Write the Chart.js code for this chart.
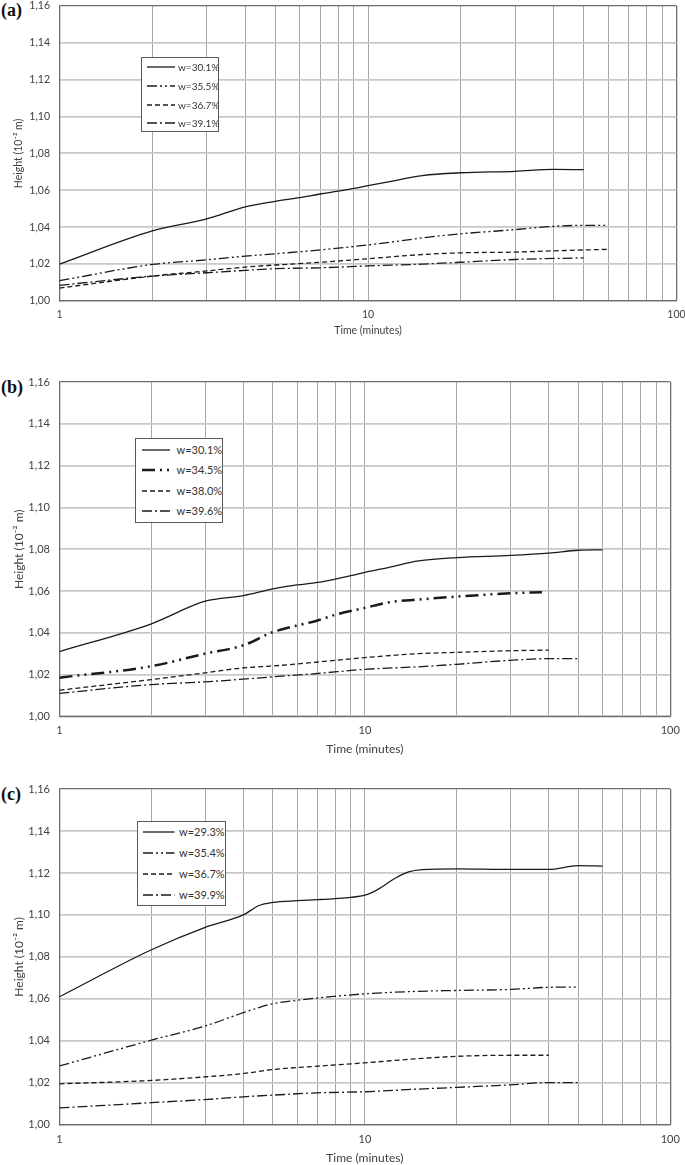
<!DOCTYPE html>
<html><head><meta charset="utf-8">
<script src="https://cdn.jsdelivr.net/npm/chart.js@4/dist/chart.umd.min.js"></script>
<style>
html,body{margin:0;padding:0;background:#fff;}
body{width:685px;height:1165px;overflow:hidden;position:relative;}
canvas{position:absolute;left:0;}
.plabel{position:absolute;left:1px;font-family:"Liberation Serif","DejaVu Serif",serif;font-weight:bold;font-size:18px;line-height:18px;color:#111;}
.legend{position:absolute;border:1px solid #5a5a5a;background:#fff;box-sizing:border-box;font-family:Lato,"Open Sans",sans-serif;color:#333;}
.legend .row{position:absolute;left:0;width:100%;height:14px;}
.legend svg{position:absolute;top:4px;}
.legend span{position:absolute;top:0;line-height:14px;white-space:nowrap;}
</style></head><body>
<div class="plabel" style="top:1px">(a)</div>
<div class="plabel" style="top:378px">(b)</div>
<div class="plabel" style="top:785px">(c)</div>
<script>
// ---------- axis data ----------
const xTickValues = [1,2,3,4,5,6,7,8,9,10,20,30,40,50,60,70,80,90,100];
const xLabelValues = [1,10,100];
const yTickValues = [1.00,1.02,1.04,1.06,1.08,1.10,1.12,1.14,1.16];
const xTitle = 'Time (minutes)';
const yTitle = 'Height (10\u207B\u00B2 m)';

// ---------- panel (a) ----------
const aLabels = ['w=30.1%','w=35.5%','w=36.7%','w=39.1%'];
const aT1 = [1,2,3,4,5,6,7,8,9,10,12,15,20,30,40,50];
const aY1 = [1.020,1.038,1.0445,1.051,1.054,1.056,1.058,1.0595,1.061,1.0625,1.065,1.068,1.0695,1.0703,1.0713,1.0712];
const aT2 = [1,2,3,4,5,7,10,12,15,20,30,40,50,60];
const aY2 = [1.011,1.0198,1.0223,1.0243,1.0256,1.0277,1.0304,1.032,1.0342,1.0364,1.0387,1.0405,1.041,1.041];
const aT3 = [1,2,3,4,5,7,10,15,20,30,40,60];
const aY3 = [1.007,1.0135,1.0163,1.0184,1.0195,1.021,1.0229,1.0252,1.0261,1.0265,1.0272,1.028];
const aT4 = [1,2,3,4,5,7,10,15,20,30,50];
const aY4 = [1.0085,1.0135,1.0153,1.0166,1.0175,1.018,1.019,1.020,1.021,1.0225,1.0234];

// ---------- panel (b) ----------
const bLabels = ['w=30.1%','w=34.5%','w=38.0%','w=39.6%'];
const bT1 = [1,2,3,4,5,6,7,8,9,10,12,15,20,30,40,50,60];
const bY1 = [1.031,1.0443,1.0551,1.0578,1.061,1.0629,1.0641,1.0657,1.0673,1.0689,1.0713,1.0744,1.076,1.077,1.0781,1.0795,1.0797];
const bT2 = [1,2,3,4,5,7,8,10,12,15,20,30,38];
const bY2 = [1.0185,1.024,1.030,1.034,1.0403,1.0459,1.0486,1.0519,1.0546,1.0559,1.0573,1.0589,1.0594];
const bT3 = [1,2,3,4,5,7,10,15,20,30,40];
const bY3 = [1.0125,1.0176,1.0208,1.0232,1.0241,1.026,1.0281,1.030,1.0306,1.0314,1.0317];
const bT4 = [1,2,3,4,5,7,10,15,20,30,40,50];
const bY4 = [1.011,1.0152,1.0165,1.0178,1.0189,1.0205,1.0225,1.0237,1.0249,1.0268,1.0276,1.0276];

// ---------- panel (c) ----------
const cLabels = ['w=29.3%','w=35.4%','w=36.7%','w=39.9%'];
const cT1 = [1,2,3,4,4.5,5,6,7,8,9,10,11,12.6,13.9,15.4,20,30,40,50,60];
const cY1 = [1.061,1.0834,1.0941,1.100,1.1045,1.106,1.1068,1.1073,1.1078,1.1084,1.1094,1.1121,1.1176,1.1205,1.1216,1.1220,1.1217,1.1217,1.1235,1.1233];
const cT2 = [1,2,3,4,5,6,7,10,15,20,30,40,50];
const cY2 = [1.028,1.0403,1.0471,1.0534,1.0577,1.0593,1.0604,1.0624,1.0636,1.064,1.0645,1.0655,1.0656];
const cT3 = [1,2,3,4,5,7,10,15,20,30,40];
const cY3 = [1.0195,1.0211,1.0228,1.0244,1.0263,1.0279,1.0295,1.0315,1.0326,1.0331,1.0331];
const cT4 = [1,2,3,4,5,7,10,15,20,30,40,50];
const cY4 = [1.008,1.0105,1.012,1.0133,1.0141,1.0152,1.0157,1.017,1.0178,1.019,1.0201,1.0201];

// ---------- styles ----------
const LINE = '#1a1a1a';
const DASH = {solid:[], dd:[10,3,2,3,2,3], dash:[5,3], dot:[10,3,2,3], ddThick:[13,5,2,5,2,5]};

function ds(label, t, y, dash, w){
  return {label, data:t.map((x,i)=>({x, y:y[i]})), borderColor:LINE, borderWidth:w||1.3,
    borderDash:dash, pointRadius:0, fill:false, cubicInterpolationMode:'monotone', borderCapStyle:'butt'};
}

const panels = [
  {geo:{top:4,bottom:301,left:59.5,right:676.5,fs:10.5,tfs:10.5,tpad:7,titleBelow:30},
   legend:{x:141,y:57,w:78,h:75,rows:[10,29,47.5,66.3],sx:6,sw:28,tx:37,fs:10},
   sets:[ds(aLabels[0],aT1,aY1,DASH.solid),ds(aLabels[1],aT2,aY2,DASH.dd),ds(aLabels[2],aT3,aY3,DASH.dash),ds(aLabels[3],aT4,aY4,DASH.dot)]},
  {geo:{top:379.5,bottom:716.3,left:59.5,right:670.3,fs:11,tfs:12,tpad:8,titleBelow:33},
   legend:{x:135,y:438,w:88,h:85,rows:[11.5,32,52.5,73],sx:6.5,sw:28.5,tx:41.5,fs:11},
   sets:[ds(bLabels[0],bT1,bY1,DASH.solid),ds(bLabels[1],bT2,bY2,DASH.ddThick,2.5),ds(bLabels[2],bT3,bY3,DASH.dash),ds(bLabels[3],bT4,bY4,DASH.dot)]},
  {geo:{top:787.3,bottom:1124.7,left:59.5,right:670.3,fs:11,tfs:12,tpad:8,titleBelow:33},
   legend:{x:137,y:821,w:89,h:85,rows:[10.7,31.5,53,74],sx:6.3,sw:31.5,tx:42,fs:11},
   sets:[ds(cLabels[0],cT1,cY1,DASH.solid),ds(cLabels[1],cT2,cY2,DASH.dd),ds(cLabels[2],cT3,cY3,DASH.dash),ds(cLabels[3],cT4,cY4,DASH.dot)]}
];

const CW = 700, XH = 44, PADTOP = 14;
panels.forEach(p=>{
  const g = p.geo;
  const cTop = Math.round(g.top) - PADTOP;
  const padTop = g.top - cTop;
  const H = Math.ceil(g.bottom - cTop + XH);
  const padBottom = H - (g.bottom - cTop) - XH;
  const cv = document.createElement('canvas');
  cv.width = CW; cv.height = H;
  cv.style.top = cTop + 'px';
  cv.style.width = CW+'px'; cv.style.height = H+'px';
  document.body.appendChild(cv);
  const font = {family:'Lato', size:g.fs};
  const tfont = {family:'Lato', size:g.tfs};
  const lh = g.tfs*1.2/2;
  new Chart(cv.getContext('2d'), {
    type:'line',
    data:{datasets:p.sets},
    options:{
      responsive:false, animation:false, devicePixelRatio:1,
      layout:{padding:{top:padTop,left:0,right:CW-g.right,bottom:padBottom}},
      plugins:{legend:{display:false},tooltip:{enabled:false}},
      scales:{
        x:{type:'logarithmic',min:1,max:100,
          afterBuildTicks:s=>{s.ticks=xTickValues.map(v=>({value:v}));},
          afterFit:s=>{s.height=XH;},
          ticks:{autoSkip:false,maxRotation:0,minRotation:0,font,color:'#404040',padding:g.tpad,
            callback:(v)=>xLabelValues.includes(v)?String(v):''},
          grid:{drawTicks:false,
            color:c=>(c.tick&&c.tick.value===100)?'#6e6e6e':'#a6a6a6',
            lineWidth:c=>(c.tick&&c.tick.value===100)?1.3:1},
          border:{color:'#6e6e6e',width:1.3},
          title:{display:true,text:xTitle,font:tfont,color:'#404040',padding:{top:0,bottom:XH-g.titleBelow-lh}}
        },
        y:{type:'linear',min:1,max:1.16,
          afterBuildTicks:s=>{s.ticks=yTickValues.map(v=>({value:v}));},
          afterFit:s=>{s.width=g.left;},
          ticks:{font,color:'#404040',padding:9.5,callback:v=>Number(v).toFixed(2).replace('.',',')},
          grid:{drawTicks:false,
            color:c=>(c.tick&&Math.abs(c.tick.value-1.16)<1e-9)?'#6e6e6e':'#c8c8c8',
            lineWidth:c=>(c.tick&&Math.abs(c.tick.value-1.16)<1e-9)?1.3:1.8},
          border:{color:'#6e6e6e',width:1.3},
          title:{display:true,text:yTitle,font:tfont,color:'#404040',padding:{top:19-lh,bottom:0}}
        }
      }
    }
  });
  // legend box
  const L = p.legend;
  const box = document.createElement('div');
  box.className = 'legend';
  box.style.cssText += `left:${L.x}px;top:${L.y}px;width:${L.w}px;height:${L.h}px;font-size:${L.fs}px;`;
  p.sets.forEach((d,i)=>{
    const row = document.createElement('div');
    row.className = 'row';
    row.style.top = (L.rows[i]-7-1)+'px';
    const dash = d.borderDash.length ? d.borderDash.join(',') : 'none';
    row.innerHTML = `<svg width="${L.sw}" height="6" style="left:${L.sx-1}px"><line x1="0" y1="3" x2="${L.sw}" y2="3" stroke="${LINE}" stroke-width="${d.borderWidth}" stroke-dasharray="${dash}"/></svg><span style="left:${L.tx-1}px">${d.label}</span>`;
    box.appendChild(row);
  });
  document.body.appendChild(box);
});
</script>
</body></html>
